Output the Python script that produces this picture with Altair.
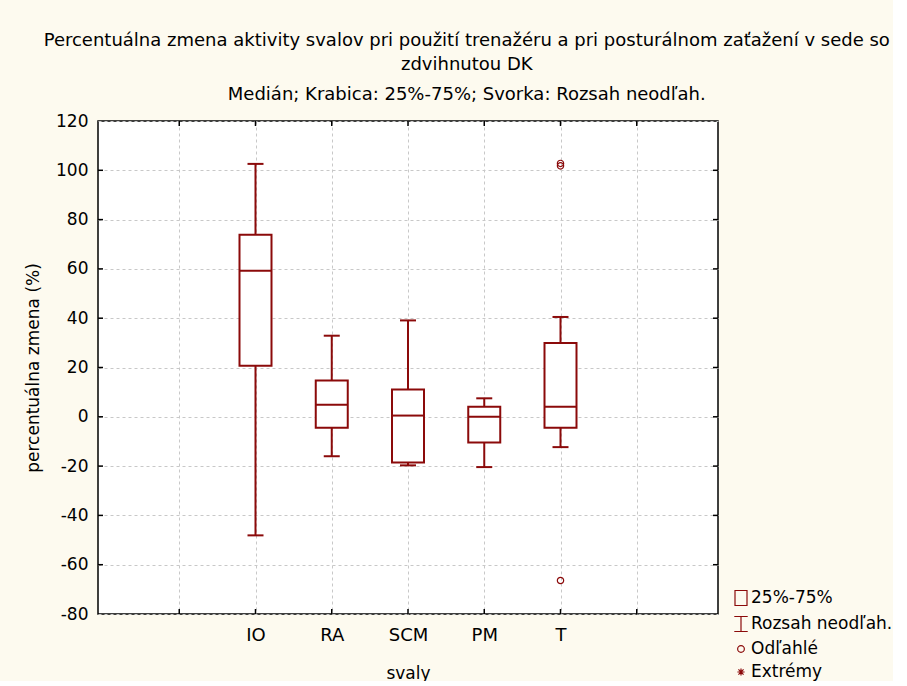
import altair as alt
import pandas as pd

# ---- data ----
categories = ["IO", "RA", "SCM", "PM", "T"]
whisker_low = [-48.1, -16.0, -19.7, -20.4, -12.3]
q1 = [20.7, -4.4, -18.5, -10.4, -4.4]
median = [59.3, 4.9, 0.5, 0.0, 4.1]
q3 = [73.9, 14.7, 11.1, 4.1, 29.9]
whisker_high = [102.6, 32.9, 39.1, 7.5, 40.5]
outlier_cat = ["T", "T", "T"]
outlier_val = [102.8, 101.8, -66.4]
y_ticks = [-80, -60, -40, -20, 0, 20, 40, 60, 80, 100, 120]
legend_labels = ["25%-75%", "Rozsah neodľah.", "Odľahlé", "Extrémy"]

# category slots on an 8-division axis (first category on slot 2)
n_slots = 8
first_slot = 2
slot_of = {c: i + first_slot for i, c in enumerate(categories)}

RED = "#8b0a0a"
FONT = "DejaVu Sans"
W, H = 620, 493
TICK = 5

boxes = pd.DataFrame({
    "cat": categories,
    "pos": [slot_of[c] for c in categories],
    "lo": whisker_low, "q1": q1, "med": median, "q3": q3, "hi": whisker_high,
})
outliers = pd.DataFrame({"pos": [slot_of[c] for c in outlier_cat], "val": outlier_val})
legend_df = pd.DataFrame({"label": legend_labels, "pos": [first_slot] * 4, "val": [1000] * 4})
yt = pd.DataFrame({"v": y_ticks[1:-1]})
xt = pd.DataFrame({"p": list(range(1, n_slots))})

label_expr = " : ".join(
    [f"datum.value == {slot_of[c]} ? '{c}'" for c in categories]
) + " : ''"

xscale = alt.Scale(domain=[0, n_slots], nice=False, zero=False)
yscale = alt.Scale(domain=[y_ticks[0], y_ticks[-1]], nice=False, zero=False)

xaxis = alt.Axis(values=list(range(1, n_slots)), labelExpr=label_expr, title="svaly",
                 grid=True, ticks=False, domain=False, labelPadding=12,
                 labelFontSize=18, titlePadding=21)
yaxis = alt.Axis(values=y_ticks, labelExpr="datum.value + ''",
                 title="percentuálna zmena (%)", grid=True,
                 ticks=False, domain=False, labelPadding=10, labelFontSize=17,
                 titlePadding=13)

X = alt.X("pos:Q", scale=xscale, axis=xaxis)

whiskers = alt.Chart(boxes).mark_rule(color=RED, strokeWidth=2).encode(
    x=X, y=alt.Y("lo:Q", scale=yscale, axis=yaxis), y2="hi:Q")
caps_lo = alt.Chart(boxes).mark_tick(orient="horizontal", size=16, thickness=2,
                                     color=RED, opacity=1).encode(x="pos:Q", y="lo:Q")
caps_hi = alt.Chart(boxes).mark_tick(orient="horizontal", size=16, thickness=2,
                                     color=RED, opacity=1).encode(x="pos:Q", y="hi:Q")
box = alt.Chart(boxes).mark_bar(size=32, fill="white", stroke=RED, strokeWidth=2).encode(
    x="pos:Q", y="q1:Q", y2="q3:Q")
med = alt.Chart(boxes).mark_tick(orient="horizontal", size=32, thickness=2,
                                 color=RED, opacity=1).encode(x="pos:Q", y="med:Q")
outl = alt.Chart(outliers).mark_point(shape="circle", size=40, filled=False, color=RED,
                                      strokeWidth=1.2, opacity=1).encode(x="pos:Q", y="val:Q")

paths = [
    "M-0.75,-0.94H0.75V0.94H-0.75Z",
    "M-0.84,-0.94H0.84M0,-0.94V0.94M-0.84,0.94H0.84",
    "M-0.42,0A0.42,0.42 0 1,0 0.42,0A0.42,0.42 0 1,0 -0.42,0Z",
    "M-0.45,0H0.45M0,-0.45V0.45M-0.32,-0.32L0.32,0.32M-0.32,0.32L0.32,-0.32",
]
leg = alt.Chart(legend_df).mark_point(filled=False, color=RED, strokeWidth=1.2,
                                      opacity=1, clip=True).encode(
    x="pos:Q", y="val:Q",
    shape=alt.Shape("label:N", scale=alt.Scale(domain=legend_labels, range=paths),
                    legend=alt.Legend(title=None, orient="none", legendX=634, legendY=468,
                                      symbolSize=256, symbolStrokeWidth=1.2,
                                      symbolStrokeColor=RED, labelFont=FONT,
                                      labelFontSize=17, labelColor="black",
                                      labelOffset=1, rowPadding=6, padding=0)))

tick_l = alt.Chart(yt).mark_rule(color="black", strokeWidth=1.5).encode(
    y="v:Q", x=alt.value(0), x2=alt.value(TICK))
tick_r = alt.Chart(yt).mark_rule(color="black", strokeWidth=1.5).encode(
    y="v:Q", x=alt.value(W), x2=alt.value(W - TICK))
tick_b = alt.Chart(xt).mark_rule(color="black", strokeWidth=1.5).encode(
    x="p:Q", y=alt.value(H), y2=alt.value(H - TICK))
tick_t = alt.Chart(xt).mark_rule(color="black", strokeWidth=1.5).encode(
    x="p:Q", y=alt.value(0), y2=alt.value(TICK))

chart = alt.layer(
    whiskers, caps_lo, caps_hi, box, med, outl, leg, tick_l, tick_r, tick_b, tick_t
).properties(
    width=W, height=H,
    background="#fdfaef",
    padding={"left": 24, "top": 32, "right": 0, "bottom": 0},
    title=alt.TitleParams(
        text=["Percentuálna zmena aktivity svalov pri použití trenažéru a pri posturálnom zaťažení v sede so",
              "zdvihnutou DK"],
        subtitle="Medián; Krabica: 25%-75%; Svorka: Rozsah neodľah.",
        anchor="middle", frame="bounds", font=FONT, fontSize=18, fontWeight="normal",
        color="black", lineHeight=24, subtitleFont=FONT, subtitleFontSize=18,
        subtitleColor="black", subtitlePadding=12, offset=8, dx=8,
    ),
).configure_view(
    fill="white", stroke="black", strokeWidth=1.5
).configure_axis(
    labelFont=FONT, titleFont=FONT, labelColor="black", titleColor="black",
    titleFontSize=17, titleFontWeight="normal",
    gridColor="#c8c8c8", gridDash=[3, 3], gridWidth=1,
)

chart.save("out.html", embed_options={"renderer": "svg", "actions": False})
